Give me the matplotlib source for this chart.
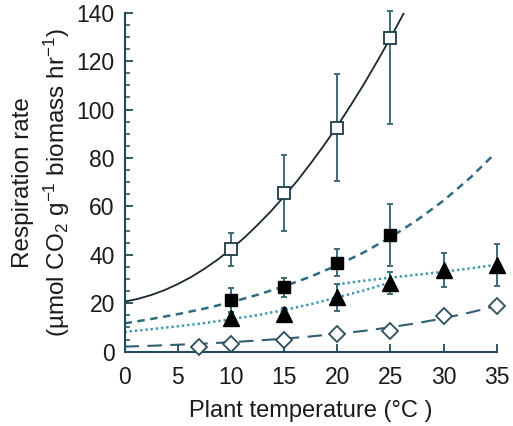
import numpy as np
import matplotlib
matplotlib.use("Agg")
import matplotlib.pyplot as plt
from matplotlib.ticker import MultipleLocator

plt.rcParams['font.family'] = ['Liberation Sans', 'DejaVu Sans']
plt.rcParams['mathtext.fontset'] = 'custom'
plt.rcParams['mathtext.rm'] = 'Liberation Sans'
plt.rcParams['mathtext.it'] = 'Liberation Sans:italic'

# measured points
temp_sq = [10, 15, 20, 25]
open_sq = [42.3, 65.7, 92.5, 129.5]
open_sq_lo = [6.8, 16.0, 22.0, 35.6]
open_sq_hi = [6.6, 15.7, 22.2, 11.0]

filled_sq = [21.4, 26.6, 36.8, 48.2]
filled_sq_err = [5.0, 4.0, 5.5, 13.0]

temp_tri = [10, 15, 20, 25, 30, 35]
tri = [13.8, 15.6, 22.4, 28.3, 33.8, 35.8]
tri_err = [2.0, 2.5, 5.5, 4.5, 6.9, 8.6]

temp_dia = [7, 10, 15, 20, 25, 30, 35]
dia = [2.1, 3.2, 4.8, 7.3, 8.6, 14.9, 19.0]

# fitted curves
fit_x_open = [0, 1.25, 2.5, 3.75, 5, 6.25, 7.5, 8.75, 10, 11.25, 12.5, 13.75, 15,
              16.25, 17.5, 18.75, 20, 21.25, 22.5, 23.75, 25, 26.25]
fit_open = [20.7, 21.8, 23.4, 25.4, 27.9, 30.8, 34.2, 38.0, 42.3, 47.0, 52.3, 57.9, 64.1,
            70.6, 77.7, 85.2, 93.1, 101.6, 110.4, 119.8, 129.5, 139.7]

fit_x_filled = [0, 2.5, 5, 7.5, 10, 12.5, 15, 17.5, 20, 22.5, 25, 27.5, 30, 32.5, 34.5]
fit_filled = [11.7, 13.5, 15.5, 17.8, 20.4, 23.5, 27.0, 31.0, 35.7, 41.0, 47.2, 54.3, 62.4, 71.8, 80.4]

fit_x_tri1 = [0, 2.5, 5, 7.5, 10, 12.5, 15, 17.5, 20, 22.5, 25]
fit_tri1 = [8.2, 9.3, 10.5, 11.8, 13.4, 15.1, 17.2, 19.6, 22.4, 25.3, 28.6]
fit_x_tri2 = [20, 22.5, 25, 27.5, 30, 32.5, 35]
fit_tri2 = [27.8, 29.3, 30.6, 31.8, 33.0, 34.4, 35.9]

fit_x_dia = [0, 2.5, 5, 7.5, 10, 12.5, 15, 17.5, 20, 22.5, 25, 27.5, 30, 32.5, 35]
fit_dia = [2.1, 2.45, 2.88, 3.36, 3.93, 4.6, 5.4, 6.3, 7.4, 8.6, 10.1, 11.8, 13.8, 16.2, 18.9]

axcol = '#1f4a58'
errcol = '#3d6b7a'

fig = plt.figure(figsize=(5.13, 4.26), dpi=100)
ax = fig.add_axes([0.2427, 0.1744, 0.7255, 0.7958])

# fit lines
ax.plot(fit_x_open, fit_open, '-', color='#18282e', lw=1.3, zorder=2)
ax.plot(fit_x_filled, fit_filled, color='#2f6b80', lw=1.8, dashes=(3, 2.2), zorder=2)
ax.plot(fit_x_tri1, fit_tri1, color='#3a95b5', lw=1.8, dashes=(0.9, 1.2), zorder=2)
ax.plot(fit_x_tri2, fit_tri2, color='#3a95b5', lw=1.8, dashes=(0.9, 1.2), zorder=2)
ax.plot(fit_x_dia, fit_dia, color='#2f6070', lw=1.5, dashes=(7, 4), zorder=2)

# error bars
ekw = dict(fmt='none', ecolor=errcol, elinewidth=1.4, capsize=2.5, capthick=1.4, zorder=3, clip_on=False)
ax.errorbar(temp_sq, open_sq, yerr=[open_sq_lo, open_sq_hi], **ekw)
ax.errorbar(temp_sq, filled_sq, yerr=filled_sq_err, **ekw)
ax.errorbar(temp_tri, tri, yerr=tri_err, **ekw)

# markers
ax.plot(temp_sq, open_sq, 's', ms=9, mfc='white', mec='#1d3d48', mew=1.3, zorder=4, ls='none')
ax.plot(temp_sq, filled_sq, 's', ms=9, mfc='black', mec='black', zorder=4, ls='none')
ax.plot(temp_tri, tri, '^', ms=11, mfc='black', mec='black', zorder=4, ls='none', clip_on=False)
ax.plot(temp_dia, dia, 'D', ms=8, mfc='white', mec='#2d4f5a', mew=1.3, zorder=4, ls='none', clip_on=False)

ax.set_xlim(0, 35)
ax.set_ylim(0, 140)
ax.xaxis.set_major_locator(MultipleLocator(5))
ax.yaxis.set_major_locator(MultipleLocator(20))
ax.yaxis.set_minor_locator(MultipleLocator(5))

for s in ['top', 'right']:
    ax.spines[s].set_visible(False)
for s in ['left', 'bottom']:
    ax.spines[s].set_color(axcol)
    ax.spines[s].set_linewidth(1.5)

ax.tick_params(axis='x', direction='in', length=6, width=1.3, color=axcol,
               labelsize=16.5, pad=10, labelcolor='#1a1a1a')
ax.tick_params(axis='y', which='major', direction='in', length=6, width=1.3, color=axcol,
               labelsize=16.5, pad=7, labelcolor='#1a1a1a')
ax.tick_params(axis='y', which='minor', direction='in', length=3.5, width=1.1, color=axcol)

ax.set_xlabel('Plant temperature (°C )', fontsize=17, color='#1a1a1a', labelpad=8)
ax.set_ylabel('Respiration rate\n(µmol CO$_2$ g$^{-1}$ biomass hr$^{-1}$)',
              fontsize=17.5, color='#1a1a1a', linespacing=1.35, labelpad=3)

fig.savefig('out.png', dpi=100)
